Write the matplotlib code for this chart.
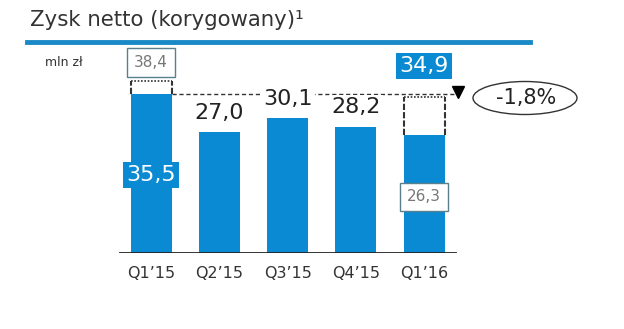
import matplotlib
matplotlib.use("Agg")
import matplotlib.pyplot as plt
from matplotlib.patches import Ellipse

categories = ["Q1\u201915", "Q2\u201915", "Q3\u201915", "Q4\u201915", "Q1\u201916"]
bar_values = [35.5, 27.0, 30.1, 28.2, 26.3]
outline_values = [38.4, None, None, None, 34.9]
main_labels = ["35,5", "27,0", "30,1", "28,2", "34,9"]
box_labels = ["38,4", None, None, None, "26,3"]
change_label = "-1,8%"
title = "Zysk netto (korygowany)\u00b9"
unit = "mln z\u0142"

BLUE = "#0A8AD2"
W, H = 624, 329
fig = plt.figure(figsize=(W / 100, H / 100), dpi=100)

def fx(px):
    return px / W

def fy(py):
    return 1 - py / H

# axes: x from 119 to 457 px, baseline at 253 px, top at 50 px
ax = fig.add_axes([fx(119), fy(253), fx(457) - fx(119), (253 - 50) / H])
ax.set_xlim(-0.47, 4.48)
ax.set_ylim(0, 45.3)
ax.axis("off")

xs = list(range(len(categories)))
bw = 0.6
ax.bar(xs, bar_values, width=bw, color=BLUE, zorder=2)
ax.axhline(0, color="#222222", lw=2, zorder=3)

for i, c in enumerate(categories):
    ax.annotate(c, (i, 0), xytext=(0, -15), textcoords="offset points",
                ha="center", va="center", fontsize=11.5, color="#333333")

# outlines
for i, ov in enumerate(outline_values):
    if ov is None:
        continue
    b = bar_values[i]
    ax.plot([i - bw / 2, i + bw / 2], [ov, ov], color="#333333", lw=1.2, ls=(0, (1, 1)), zorder=4)
    ax.plot([i - bw / 2, i - bw / 2], [b, ov], color="#333333", lw=1.5, ls=(0, (3, 1)), zorder=4)
    ax.plot([i + bw / 2, i + bw / 2], [b, ov], color="#333333", lw=1.5, ls=(0, (3, 1)), zorder=4)

# dashed reference line from Q1'15 to Q1'16 top
ref = bar_values[0]
ax.plot([0 + bw / 2, 4.47], [ref, ref], color="#333333", lw=1, ls=(0, (3, 2)), zorder=1)
ax.plot([4.5], [ref + 0.5], marker="v", color="black", markersize=8, zorder=5, clip_on=False)

# plain labels for middle bars
for i in (1, 2, 3):
    ax.annotate(main_labels[i], (i, bar_values[i]), xytext=(0, 14), textcoords="offset points",
                ha="center", va="center", fontsize=16, color="#222222",
                bbox=dict(boxstyle="square,pad=0.1", fc="white", ec="none"), zorder=6)

# Q1'15 labels
ax.text(0, 17.4, main_labels[0], ha="center", va="center", fontsize=16, color="white",
        bbox=dict(boxstyle="square,pad=0.15", fc=BLUE, ec="none"), zorder=6)
ax.annotate(box_labels[0], (0, outline_values[0]), xytext=(0, 13.5), textcoords="offset points",
            ha="center", va="center", fontsize=11, color="#777777",
            bbox=dict(boxstyle="square,pad=0.45", fc="white", ec="#5a7f8f", lw=1), zorder=6)

# Q1'16 labels
ax.annotate(main_labels[4], (4, outline_values[4]), xytext=(0, 22), textcoords="offset points",
            ha="center", va="center", fontsize=16, color="white",
            bbox=dict(boxstyle="square,pad=0.15", fc=BLUE, ec="none"), zorder=6)
ax.text(4, 12.5, box_labels[4], ha="center", va="center", fontsize=11, color="#777777",
        bbox=dict(boxstyle="square,pad=0.45", fc="white", ec="#5a7f8f", lw=1), zorder=6)

# change ellipse
e = Ellipse((fx(525), fy(98)), fx(104), 33 / H, transform=fig.transFigure,
            fc="white", ec="#333333", lw=1)
fig.patches.append(e)
fig.text(fx(526), fy(98), change_label, ha="center", va="center", fontsize=15, color="#222222")

# title and rule
fig.text(fx(30), fy(20), title, ha="left", va="center", fontsize=15.3, color="#333333")
fig.add_artist(plt.Line2D([fx(27), fx(530)], [fy(42), fy(42)], color="#1A8AC6", lw=3.5))
fig.text(fx(45), fy(62), unit, ha="left", va="center", fontsize=9, color="#333333")

fig.savefig("out.png", dpi=100, facecolor="white")
